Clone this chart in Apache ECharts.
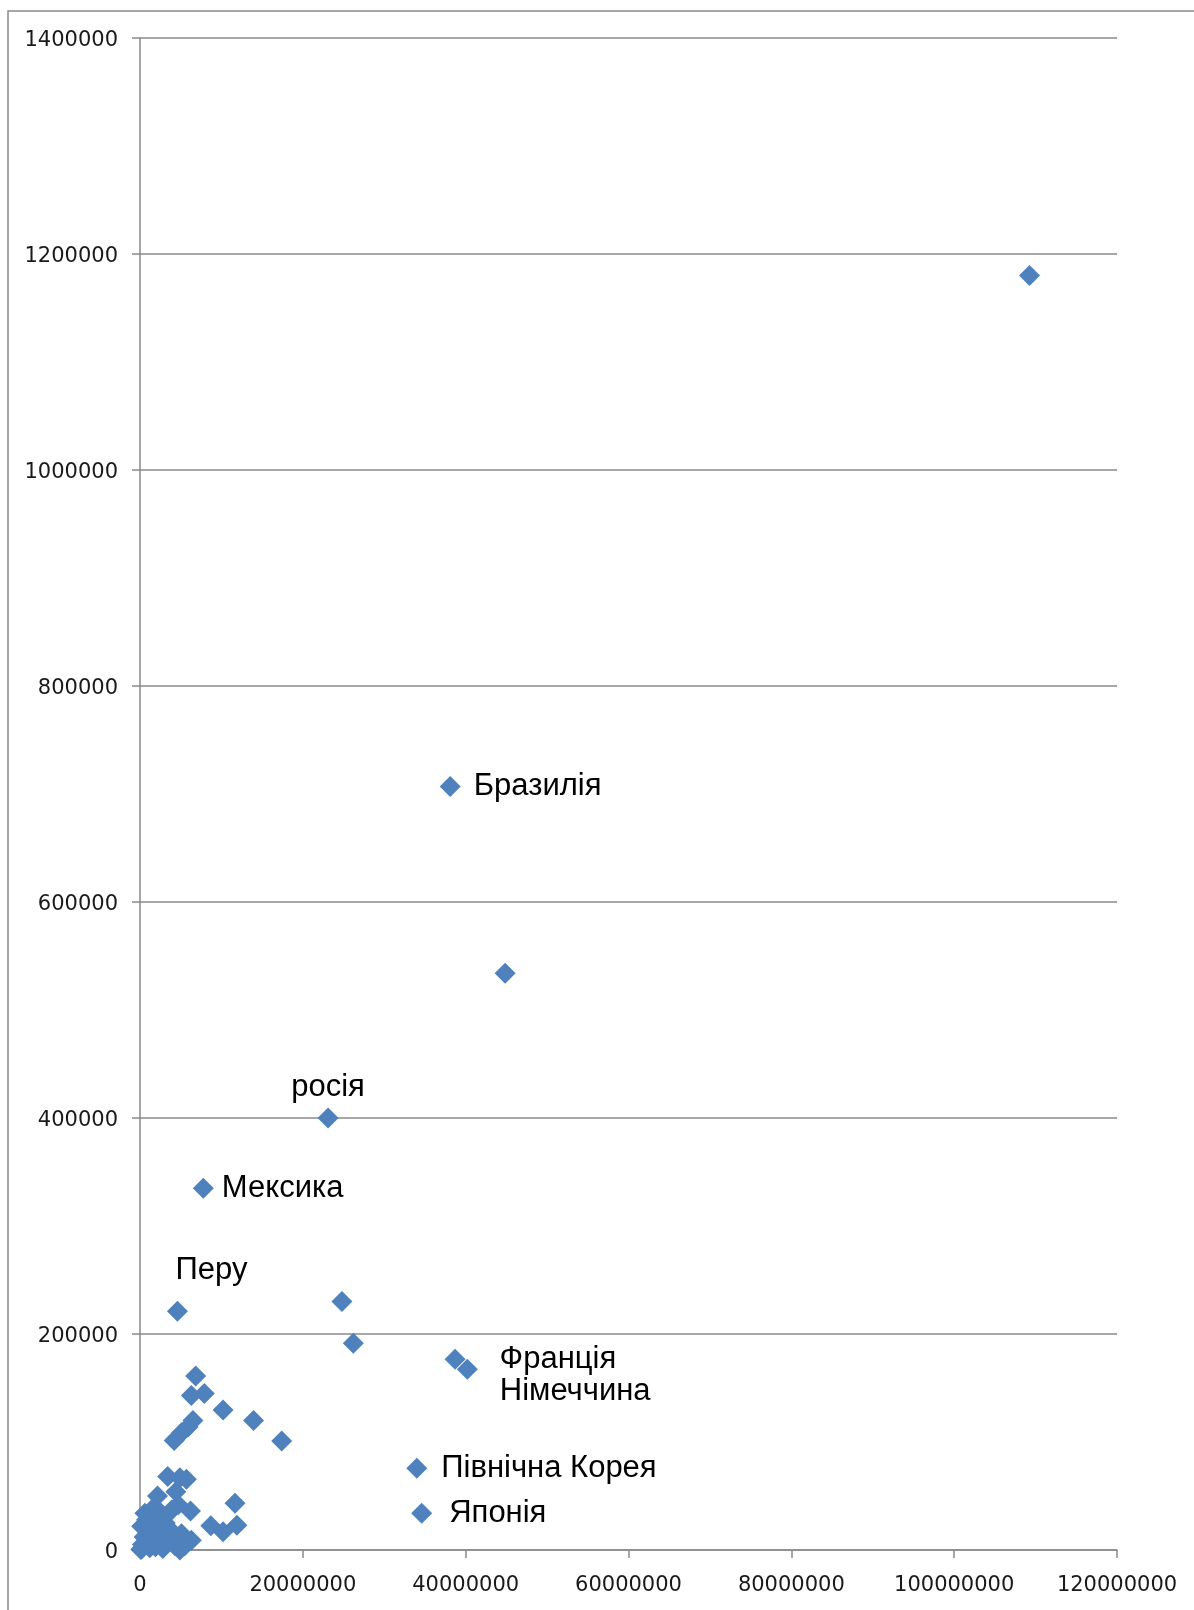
<!DOCTYPE html>
<html>
<head>
<meta charset="utf-8">
<style>
  html, body { margin: 0; padding: 0; background: #fff; }
  #chart { width: 1194px; height: 1610px; }
</style>
<script src="https://cdn.jsdelivr.net/npm/echarts@6/dist/echarts.min.js"></script>
</head>
<body>
<div id="chart"></div>
<script>
// Country names (empty = unlabeled point)
const countries = [
  '', 'Бразилія', '', 'росія', 'Мексика', 'Перу', '', '',
  'Франція', 'Німеччина', 'Північна Корея', 'Японія',
  '', '', '', '', '', '', '', '', '', '',
  '', '', '', '', '', '', '', '', '', '',
  '', '', '', '', '', '', '', '', '', '',
  '', '', '', '', '', '', '', '', '', '',
  '', '', '', '', '', '', '', ''
];

// Horizontal values
const xValues = [
  109250000, 38100000, 44850000, 23100000, 7780000, 4600000, 24800000, 26200000,
  38700000, 40200000, 34000000, 34600000,
  6840000, 7900000, 6300000, 10200000, 13950000, 17400000, 6500000, 5900000, 5100000, 4200000,
  3400000, 4900000, 5700000, 2150000, 4400000, 4700000, 6200000, 11670000, 8700000, 10200000,
  11900000, 4900000, 2800000, 100000, 600000, 200000, 1400000, 2250000, 1200000, 4300000,
  5500000, 3500000, 5100000, 3100000, 1800000, 2700000, 6300000, 500000, 1000000, 300000,
  1700000, 2300000, 3800000, 800000, 1500000, 3900000, 200000, 1900000
];

// Vertical values
const yValues = [
  1180000, 707000, 534000, 400000, 335000, 221000, 230000, 191500,
  176600, 167300, 75600, 34000,
  161000, 145000, 143000, 129600, 120000, 101000, 120000, 114000, 108500, 101500,
  68000, 67000, 65500, 50000, 54000, 42000, 36000, 43200, 22500, 17000,
  23000, 0, 1500, 500, 34000, 22000, 22000, 9000, 2000, 4000,
  4000, 9000, 15000, 25000, 40000, 31000, 9000, 12000, 6000, 5000,
  14000, 19000, 18000, 28000, 30000, 37000, 1000, 3000
];

// Axis tick settings
const xMin = 0, xMax = 120000000, xStep = 20000000;
const yMin = 0, yMax = 1400000, yStep = 200000;

// Where each country's name sits relative to its marker
const labelPlacement = {
  'Бразилія':       { position: 'right', distance: 13 },
  'росія':          { position: 'top', distance: 5 },
  'Мексика':        { position: 'right', distance: 8 },
  'Перу':           { position: 'top', distance: 5, shift: [34, -10] },
  'Франція':        { position: 'right', distance: 34 },
  'Німеччина':      { position: 'right', distance: 22, shift: [0, 22] },
  'Північна Корея': { position: 'right', distance: 14 },
  'Японія':         { position: 'right', distance: 17 }
};

const points = xValues.map((x, i) => {
  const name = countries[i];
  const item = { name: name, value: [x, yValues[i]] };
  const place = labelPlacement[name];
  if (name && place) {
    item.label = { show: true, position: place.position, distance: place.distance };
  }
  return item;
});

const axisGray = '#8a8a8a';
const tickFont = { fontFamily: 'DejaVu Sans', fontSize: 21, color: '#1a1a1a' };

const chart = echarts.init(document.getElementById('chart'), null, { renderer: 'canvas' });
chart.setOption({
  animation: false,
  backgroundColor: '#fff',
  grid: { left: 140, top: 38, right: 77, bottom: 60, containLabel: false, outerBoundsMode: 'none' },
  xAxis: {
    type: 'value',
    min: xMin, max: xMax, interval: xStep,
    axisLine: { show: true, lineStyle: { color: axisGray, width: 1.5 } },
    axisTick: { show: true, inside: false, length: 8, lineStyle: { color: axisGray, width: 1.5 } },
    axisLabel: Object.assign({ margin: 25, formatter: v => String(v) }, tickFont),
    splitLine: { show: false }
  },
  yAxis: {
    type: 'value',
    min: yMin, max: yMax, interval: yStep,
    axisLine: { show: true, lineStyle: { color: axisGray, width: 1.5 } },
    axisTick: { show: true, inside: false, length: 8, lineStyle: { color: axisGray, width: 1.5 } },
    axisLabel: Object.assign({
      margin: 22,
      formatter: v => '{n|' + v + '}',
      rich: { n: Object.assign({ padding: [6, 0, 0, 0] }, tickFont) }
    }, tickFont),
    splitLine: { show: true, lineStyle: { color: axisGray, width: 1.5 } }
  },
  series: [{
    type: 'scatter',
    symbol: 'diamond',
    symbolSize: 21,
    itemStyle: { color: '#4F81BD', opacity: 1 },
    label: {
      show: false,
      formatter: p => p.name,
      fontFamily: 'Liberation Sans',
      fontSize: 31,
      color: '#000'
    },
    labelLayout: function (params) {
      const place = labelPlacement[countries[params.dataIndex]];
      if (place && place.shift) {
        return { dx: place.shift[0], dy: place.shift[1], hideOverlap: false };
      }
      return { hideOverlap: false };
    },
    data: points
  }],
  graphic: [{
    type: 'polyline',
    silent: true,
    shape: { points: [[8, 1610], [8, 11], [1194, 11]] },
    style: { stroke: '#8a8a8a', lineWidth: 1.5, fill: null }
  }]
});
</script>
</body>
</html>
